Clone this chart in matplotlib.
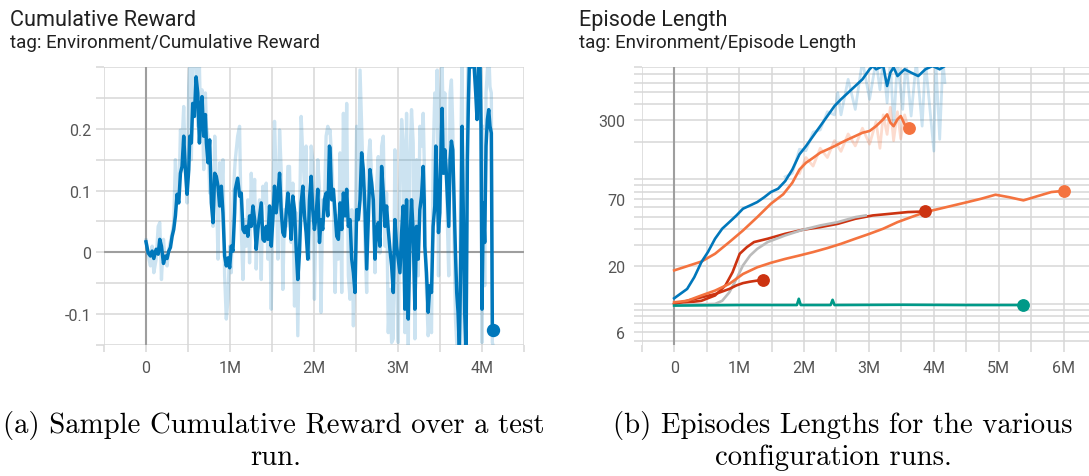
import matplotlib
matplotlib.use("Agg")
import matplotlib.pyplot as plt
from matplotlib.ticker import FixedLocator, FixedFormatter, NullFormatter

# ---------------- data: left chart (Cumulative Reward) ----------------
reward_steps_M = [
    0.000, 0.026, 0.053, 0.073, 0.093, 0.121, 0.145, 0.164, 0.184, 0.208, 0.231, 0.251, 0.271, 0.291,
    0.311, 0.330, 0.350, 0.370, 0.390, 0.410, 0.429, 0.449, 0.469, 0.489, 0.509, 0.521, 0.540, 0.556,
    0.576, 0.596, 0.616, 0.636, 0.655, 0.667, 0.687, 0.707, 0.719, 0.738, 0.758, 0.778, 0.798, 0.818,
    0.837, 0.857, 0.877, 0.897, 0.916, 0.936, 0.956, 0.976, 0.996, 1.015, 1.035, 1.055,
    1.063, 1.091, 1.114, 1.134, 1.154, 1.174, 1.194, 1.213, 1.233, 1.253, 1.273, 1.293, 1.312, 1.332,
    1.352, 1.372, 1.392, 1.411, 1.431, 1.451, 1.471, 1.491, 1.510, 1.530, 1.550, 1.570, 1.590, 1.609,
    1.629, 1.649, 1.669, 1.689, 1.708, 1.728, 1.748, 1.768, 1.788, 1.807, 1.827, 1.847, 1.867, 1.887,
    1.906, 1.926, 1.946, 1.966, 1.985, 2.005, 2.025, 2.045, 2.065, 2.084, 2.104, 2.124, 2.144, 2.164, 2.183,
    2.191, 2.211, 2.231, 2.251, 2.271, 2.290, 2.310, 2.330, 2.350, 2.370, 2.389, 2.409, 2.429, 2.449,
    2.469, 2.488, 2.508, 2.528, 2.548, 2.567, 2.587, 2.607, 2.627, 2.647, 2.666, 2.686, 2.706, 2.726,
    2.746, 2.765, 2.785, 2.805, 2.825, 2.845, 2.864, 2.884, 2.904, 2.924, 2.944, 2.963, 2.983, 3.003,
    3.023, 3.043, 3.062, 3.082, 3.102, 3.122, 3.142, 3.161, 3.181, 3.201, 3.221, 3.241, 3.260, 3.280,
    3.300, 3.312,
    3.319, 3.339, 3.359, 3.379, 3.399, 3.418, 3.438, 3.450, 3.466, 3.482, 3.498, 3.509, 3.525, 3.541,
    3.557, 3.573, 3.589, 3.604, 3.620, 3.636, 3.652, 3.668, 3.684, 3.699, 3.715, 3.731, 3.747, 3.763,
    3.779, 3.794, 3.810, 3.826, 3.838, 3.854, 3.874, 3.893, 3.909, 3.925, 3.941, 3.957, 3.973, 3.988,
    4.000, 4.016, 4.032, 4.048, 4.064, 4.080, 4.095, 4.111, 4.123, 4.131,
]
reward_smoothed = [
    0.017, -0.001, -0.006, 0.002, -0.010, 0.005, -0.003, 0.021, 0.010, -0.018, -0.006, -0.010, 0.002, 0.008,
    0.026, 0.037, 0.059, 0.094, 0.080, 0.128, 0.139, 0.188, 0.134, 0.094, 0.134, 0.188, 0.177, 0.241,
    0.220, 0.284, 0.258, 0.177, 0.236, 0.252, 0.188, 0.223, 0.177, 0.145, 0.182, 0.080, 0.048, 0.128,
    0.123, 0.107, 0.075, 0.107, 0.064, -0.006, -0.022, -0.009, -0.025, 0.010, 0.002, 0.064,
    0.102, 0.120, 0.091, 0.096, 0.037, 0.032, 0.042, 0.026, 0.059, 0.042, 0.075, 0.053, 0.005, 0.037,
    0.059, 0.080, 0.021, 0.018, 0.042, 0.021, 0.075, 0.010, 0.053, 0.107, 0.064, 0.091, 0.128, 0.069,
    0.032, 0.026, 0.064, 0.096, 0.069, 0.021, 0.091, 0.069, 0.005, -0.044, -0.001, 0.080, 0.107, 0.059,
    0.032, -0.011, 0.085, 0.123, 0.069, 0.037, 0.059, 0.102, 0.016, 0.053, 0.037, 0.085, 0.096, 0.059, 0.172,
    0.169, 0.085, 0.102, 0.064, 0.026, 0.021, 0.080, 0.037, 0.096, 0.059, 0.102, 0.042, 0.053, -0.011,
    -0.033, -0.065, 0.069, 0.053, 0.085, 0.161, 0.134, 0.069, -0.027, 0.053, 0.134, 0.112, 0.085, -0.011,
    0.037, 0.048, 0.010, 0.139, 0.096, 0.042, 0.075, 0.037, 0.005, -0.022, -0.065, 0.053, 0.010, -0.011,
    -0.033, 0.032, 0.075, -0.092, 0.085, -0.108, 0.016, 0.085, 0.032, -0.092, 0.042, -0.011, 0.069, 0.091,
    0.139, 0.085,
    0.010, -0.033, -0.097, -0.054, -0.065, 0.042, 0.075, 0.172, 0.107, 0.032, 0.064, 0.150, 0.233, 0.128,
    0.166, 0.134, 0.085, 0.042, 0.150, 0.180, 0.166, 0.085, -0.001, -0.065, -0.097, -0.160, -0.011, 0.204,
    0.053, -0.097, -0.160, 0.150, 0.241, 0.330, 0.300, 0.340, 0.295, 0.258, 0.215, 0.295, 0.330, 0.204,
    -0.092, 0.080, 0.016, 0.172, 0.215, 0.231, 0.204, 0.193, -0.119, -0.126,
]
reward_raw = [
    0.020, -0.005, -0.022, 0.010, -0.033, -0.011, 0.042, 0.048, -0.044, 0.021, -0.017, -0.022, 0.005, 0.018,
    0.032, 0.048, 0.150, 0.085, 0.080, 0.198, 0.177, 0.236, 0.134, 0.080, 0.268, 0.300, 0.150, 0.295,
    0.330, 0.300, 0.204, 0.300, 0.188, 0.263, 0.134, 0.258, 0.204, 0.188, 0.096, 0.112, 0.042, 0.188,
    0.112, -0.011, 0.145, 0.085, 0.150, -0.038, -0.108, -0.076, 0.010, -0.033, 0.075, 0.134,
    0.150, 0.188, 0.204, 0.037, -0.044, 0.053, 0.010, 0.085, -0.017, 0.128, 0.059, 0.118, -0.027, 0.053,
    0.085, -0.044, 0.107, 0.080, 0.112, -0.011, 0.064, -0.092, 0.069, 0.212, 0.118, -0.011, 0.198, 0.134,
    -0.060, 0.069, 0.042, 0.139, 0.139, 0.016, 0.112, -0.087, 0.064, -0.135, 0.042, 0.220, 0.155, 0.107,
    0.172, -0.006, -0.011, 0.172, 0.150, -0.076, 0.069, 0.150, 0.102, -0.097, 0.085, 0.075, 0.188, 0.204, 0.193,
    0.198, 0.150, 0.085, -0.065, 0.059, -0.011, 0.161, -0.065, 0.225, 0.053, 0.241, -0.038, -0.076, 0.069,
    -0.119, 0.016, 0.204, 0.069, 0.295, 0.204, 0.107, 0.016, -0.065, 0.150, 0.182, 0.123, 0.069, -0.033,
    0.107, 0.155, -0.001, 0.172, 0.188, 0.010, 0.096, -0.130, -0.060, -0.146, -0.140, 0.166, -0.038, -0.146,
    0.096, 0.215, 0.177, -0.130, 0.225, -0.160, 0.150, 0.231, 0.177, -0.140, 0.150, -0.038, 0.204, 0.172,
    0.225, 0.150,
    0.053, -0.065, -0.135, -0.103, -0.130, 0.150, 0.258, 0.204, 0.295, -0.038, 0.204, 0.258, 0.300, 0.204,
    0.258, 0.150, 0.042, -0.038, 0.258, 0.279, 0.204, 0.016, -0.108, -0.146, -0.170, -0.170, 0.150, 0.330,
    -0.092, -0.170, -0.170, 0.258, 0.330, 0.330, 0.330, 0.330, 0.330, 0.330, 0.258, 0.330, 0.330, 0.284,
    -0.146, 0.204, -0.054, 0.258, 0.295, 0.330, 0.268, 0.258, -0.146, -0.150,
]
reward_last = (4.131, -0.126)

left_xtick_pos = [0, 1, 2, 3, 4]
left_xtick_labels = ["0", "1M", "2M", "3M", "4M"]
left_ytick_pos = [-0.1, 0.0, 0.1, 0.2]
left_ytick_labels = ["-0.1", "0", "0.1", "0.2"]

# ---------------- data: right chart (Episode Length, log scale) ----------------
blue_steps = [0.0, 0.20, 0.31, 0.42, 0.52, 0.63, 0.74, 0.85, 0.96, 1.06, 1.17, 1.28, 1.39, 1.49, 1.60,
              1.71, 1.82, 1.93, 2.03, 2.14, 2.25, 2.36, 2.47, 2.57, 2.68, 2.79, 2.90, 3.01, 3.06, 3.11,
              3.22, 3.28, 3.33, 3.38, 3.44, 3.55, 3.65, 3.76, 3.87, 3.98, 4.09, 4.17]
blue_vals = [11.1, 13.2, 16.4, 21.7, 26.1, 33.4, 40.2, 45.4, 51.4, 58.2, 61.8, 65.8, 72.1, 79.2, 84.2,
             96.9, 120, 159, 185, 223, 268, 323, 389, 440, 498, 563, 637, 767, 815, 767,
             815, 563, 721, 794, 677, 767, 721, 677, 767, 815, 767, 815]
blue_raw_steps = [1.71, 1.82, 1.93, 2.03, 2.14, 2.25, 2.36, 2.47, 2.52, 2.57, 2.68, 2.79, 2.90, 3.01, 3.11,
                  3.17, 3.22, 3.28, 3.33, 3.38, 3.44, 3.52, 3.57, 3.65, 3.73, 3.82, 3.87, 4.00, 4.03, 4.09,
                  4.14, 4.17]
blue_raw_vals = [105, 112, 175, 170, 240, 250, 350, 330, 498, 330, 637, 365, 900, 440, 900,
                 525, 900, 413, 900, 268, 900, 365, 900, 323, 900, 268, 900, 169, 900, 210,
                 900, 600]

orange_hi_steps = [0.0, 0.20, 0.42, 0.63, 0.85, 1.06, 1.28, 1.49, 1.68, 1.82, 1.93, 2.03, 2.14, 2.25, 2.36,
                   2.47, 2.57, 2.68, 2.79, 2.90, 3.01, 3.11, 3.22, 3.28, 3.33, 3.38, 3.44, 3.49, 3.55, 3.61]
orange_hi_vals = [18.6, 20.1, 21.9, 25.3, 31.4, 38.9, 49.8, 63.8, 76, 94, 120, 136, 149, 164, 174,
                  185, 197, 210, 223, 237, 245, 268, 304, 333, 286, 268, 304, 323, 277, 260]
orange_hi_raw_steps = [1.93, 2.03, 2.14, 2.25, 2.36, 2.47, 2.57, 2.68, 2.79, 2.90, 3.01, 3.11, 3.17, 3.22,
                       3.28, 3.33, 3.38, 3.44, 3.49, 3.55, 3.61]
orange_hi_raw_vals = [112, 150, 128, 178, 150, 205, 168, 232, 186, 258, 192, 290, 178, 330,
                      230, 380, 205, 350, 212, 330, 250]

orange_lo_steps = [0.0, 0.20, 0.42, 0.63, 0.85, 1.06, 1.28, 1.49, 1.71, 1.93, 2.14, 2.36, 2.57, 2.79, 3.01,
                   3.22, 3.44, 3.65, 3.87, 4.09, 4.30, 4.52, 4.73, 4.95, 5.16, 5.38, 5.60, 5.81, 6.0]
orange_lo_vals = [10.3, 10.6, 11.7, 12.8, 14.5, 17.4, 19.7, 21.4, 23.0, 24.5, 26.1, 28.1, 30.4, 33.4, 36.6,
                  40.2, 45.4, 49.8, 54.7, 58.2, 61.8, 65.8, 70, 75.4, 72, 67.9, 73.5, 79.2, 81.0]

red_short_steps = [0.0, 0.20, 0.42, 0.63, 0.85, 0.96, 1.06, 1.17, 1.28, 1.37]
red_short_vals = [10.0, 10.6, 11.3, 12.0, 13.2, 14.1, 14.7, 15.1, 15.4, 15.7]

red_long_steps = [0.0, 0.42, 0.63, 0.79, 0.90, 0.96, 1.01, 1.12, 1.23, 1.44, 1.71, 1.98, 2.25, 2.52, 2.79,
                  3.06, 3.33, 3.60, 3.87]
red_long_vals = [10.0, 10.6, 11.7, 14.1, 18.0, 21.7, 25.3, 28.6, 31.4, 33.4, 36.6, 39.4, 41.4, 44.0, 48.3,
                 51.4, 53.0, 54.7, 55.3]

grey_steps = [0.0, 0.63, 0.74, 0.85, 0.96, 1.06, 1.17, 1.28, 1.44, 1.71, 1.98, 2.25, 2.52, 2.79, 2.95]
grey_vals = [9.8, 10.0, 10.6, 12.4, 15.9, 20.4, 24.5, 27.7, 31.4, 35.5, 39.4, 42.7, 45.4, 49.8, 51.4]

teal_steps = [0.0, 1.0, 1.89, 1.92, 1.95, 2.41, 2.44, 2.47, 3.5, 4.5, 5.38]
teal_vals = [9.7, 9.8, 9.8, 11.0, 9.8, 9.8, 10.8, 9.8, 9.85, 9.8, 9.8]

right_xtick_pos = [0, 1, 2, 3, 4, 5, 6]
right_xtick_labels = ["0", "1M", "2M", "3M", "4M", "5M", "6M"]
right_ytick_pos = [6, 20, 70, 300]
right_ytick_labels = ["6", "20", "70", "300"]

# ---------------- style ----------------
BLUE = "#0077bb"
ORANGE = "#f4733f"
RED = "#cc3311"
GREY = "#bbbbbb"
TEAL = "#009988"
GRID = "#d7d7d7"
ZERO = "#9e9e9e"
LABEL = "#555555"
UI_FONT = ["Roboto", "DejaVu Sans"]

W, H = 1089, 477
fig = plt.figure(figsize=(W / 100, H / 100), dpi=100)
fig.patch.set_facecolor("white")


def axes_px(x0, y0, x1, y1):
    return fig.add_axes([x0 / W, 1 - y1 / H, (x1 - x0) / W, (y1 - y0) / H])


def px2pt(p):
    return p * 0.72


def style(ax, xmaj, xlab, xmin, ymaj, ylab, ymin, ypad):
    for s in ax.spines.values():
        s.set_visible(False)
    ax.xaxis.set_major_locator(FixedLocator(xmaj))
    ax.xaxis.set_major_formatter(FixedFormatter(xlab))
    ax.xaxis.set_minor_locator(FixedLocator(xmin))
    ax.xaxis.set_minor_formatter(NullFormatter())
    ax.yaxis.set_major_locator(FixedLocator(ymaj))
    ax.yaxis.set_major_formatter(FixedFormatter(ylab))
    ax.yaxis.set_minor_locator(FixedLocator(ymin))
    ax.yaxis.set_minor_formatter(NullFormatter())
    ax.grid(True, which="both", color=GRID, lw=1.1, zorder=0)
    ax.set_axisbelow(True)
    ax.tick_params(axis="x", which="both", length=px2pt(7), width=1.1, color=GRID,
                   pad=px2pt(8), labelsize=11.5, labelcolor=LABEL)
    ax.tick_params(axis="y", which="both", length=px2pt(8.5), width=1.1, color=GRID,
                   pad=px2pt(ypad), labelsize=11.5, labelcolor=LABEL)
    for lbl in ax.get_xticklabels() + ax.get_yticklabels():
        lbl.set_fontfamily(UI_FONT)


# ---------------- left chart ----------------
ax1 = axes_px(104, 68, 524, 346)
ax1.set_xlim(-0.5, 4.5)
ax1.set_ylim(-0.15, 0.30)
style(ax1, left_xtick_pos, left_xtick_labels, [-0.5, 0.5, 1.5, 2.5, 3.5, 4.5],
      left_ytick_pos, left_ytick_labels, [-0.15, -0.05, 0.05, 0.15, 0.25, 0.30], 4.5)
ax1.axvline(0, color=ZERO, lw=1.5, zorder=1)
ax1.axhline(0, color=ZERO, lw=1.5, zorder=1)
ax1.plot(reward_steps_M, reward_raw, color=BLUE, alpha=0.2, lw=2.4, zorder=2)
ax1.plot(reward_steps_M, reward_smoothed, color=BLUE, lw=2.5, zorder=3, solid_joinstyle="round")
ax1.plot([reward_last[0]], [reward_last[1]], "o", color=BLUE, ms=8.6, zorder=4, clip_on=False)

# ---------------- right chart ----------------
ax2 = axes_px(641.7, 68, 1089, 346)
ax2.set_yscale("log")
ax2.set_xlim(-0.5, 6.39)
ax2.set_ylim(4.68, 800)
style(ax2, right_xtick_pos, right_xtick_labels, [-0.5, 0.5, 1.5, 2.5, 3.5, 4.5, 5.5],
      right_ytick_pos, right_ytick_labels,
      [5, 6, 7, 8, 9, 10, 20, 30, 40, 50, 60, 70, 80, 90, 100, 200, 300, 400, 500, 600, 700, 800], 8)
ax2.axvline(0, color=ZERO, lw=1.5, zorder=1)

LW = 1.9
ax2.plot(blue_raw_steps, blue_raw_vals, color=BLUE, alpha=0.2, lw=2.0, zorder=2)
ax2.plot(orange_hi_raw_steps, orange_hi_raw_vals, color=ORANGE, alpha=0.25, lw=2.0, zorder=2)
ax2.plot(red_long_steps, red_long_vals, color=RED, lw=LW, zorder=3)
ax2.plot(grey_steps, grey_vals, color=GREY, lw=LW, zorder=3)
ax2.plot(red_short_steps, red_short_vals, color=RED, lw=LW, zorder=3)
ax2.plot(orange_lo_steps, orange_lo_vals, color=ORANGE, lw=LW, zorder=3)
ax2.plot(teal_steps, teal_vals, color=TEAL, lw=LW, zorder=3)
ax2.plot(orange_hi_steps, orange_hi_vals, color=ORANGE, lw=LW, zorder=3)
ax2.plot(blue_steps, blue_vals, color=BLUE, lw=LW, zorder=4)
for xs, ys, c in [(red_short_steps, red_short_vals, RED), (red_long_steps, red_long_vals, RED),
                  (orange_hi_steps, orange_hi_vals, ORANGE), (orange_lo_steps, orange_lo_vals, ORANGE),
                  (teal_steps, teal_vals, TEAL)]:
    ax2.plot([xs[-1]], [ys[-1]], "o", color=c, ms=8.2, zorder=5)

# ---------------- titles ----------------
fig.text(10 / W, 1 - 26 / H, "Cumulative Reward", fontsize=15.6, color="#212121",
         family=UI_FONT, va="baseline", ha="left")
fig.text(10 / W, 1 - 48 / H, "tag: Environment/Cumulative Reward", fontsize=13.5, color="#212121",
         family=UI_FONT, va="baseline", ha="left")
fig.text(579 / W, 1 - 26 / H, "Episode Length", fontsize=15.6, color="#212121",
         family=UI_FONT, va="baseline", ha="left")
fig.text(579 / W, 1 - 48 / H, "tag: Environment/Episode Length", fontsize=13.5, color="#212121",
         family=UI_FONT, va="baseline", ha="left")

# ---------------- captions ----------------
CAP = ["cmr10", "DejaVu Serif"]
fig.text(274 / W, 1 - 425 / H, "(a) Sample Cumulative Reward over a test", fontsize=20.7,
         family=CAP, ha="center", va="center")
fig.text(276 / W, 1 - 458 / H, "run.", fontsize=20.7, family=CAP, ha="center", va="center")
fig.text(843 / W, 1 - 425 / H, "(b) Episodes Lengths for the various", fontsize=20.7,
         family=CAP, ha="center", va="center")
fig.text(833 / W, 1 - 458 / H, "configuration runs.", fontsize=20.7, family=CAP, ha="center", va="center")

fig.savefig("out.png", dpi=100)
